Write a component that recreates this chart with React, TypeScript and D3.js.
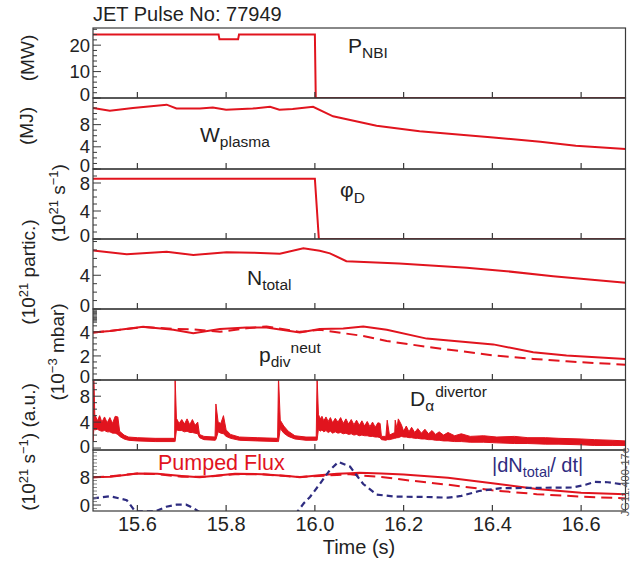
import React from "react";
import * as d3 from "d3";

// ---------- DATA ----------
const xTicks = [15.6, 15.8, 16.0, 16.2, 16.4, 16.6];
const xTickLabels = ["15.6", "15.8", "16.0", "16.2", "16.4", "16.6"];

const pnbiTime = [15.5, 15.783, 15.785, 15.827, 15.829, 16.0, 16.002, 16.7];
const pnbiValue = [24.0, 24.0, 22.2, 22.2, 24.0, 24.0, 0, 0];

const wTime = [15.5, 15.538, 15.59, 15.666, 15.688, 15.741, 15.77, 15.8, 15.86, 15.899, 15.92, 15.95, 15.996, 16.041, 16.139, 16.236, 16.402, 16.508, 16.588, 16.7];
const wValue = [11.0, 10.5, 11.0, 11.6, 10.9, 10.9, 11.1, 10.7, 10.9, 11.2, 10.7, 10.8, 11.2, 9.5, 7.8, 6.8, 5.7, 4.9, 4.2, 3.6];

const phiTime = [15.5, 16.0, 16.009, 16.7];
const phiValue = [8.6, 8.6, 0, 0];

const nTime = [15.5, 15.576, 15.666, 15.726, 15.801, 15.861, 15.921, 15.974, 16.011, 16.034, 16.071, 16.19, 16.342, 16.432, 16.537, 16.7];
const nValue = [6.94, 6.5, 6.8, 6.4, 6.74, 6.67, 6.55, 7.2, 6.9, 6.6, 5.67, 5.39, 4.88, 4.48, 3.88, 3.1];

const pTime = [15.5, 15.538, 15.613, 15.681, 15.726, 15.786, 15.846, 15.891, 15.966, 16.011, 16.064, 16.109, 16.162, 16.252, 16.402, 16.492, 16.567, 16.7];
const pSolid = [3.95, 4.08, 4.42, 4.17, 3.89, 4.23, 4.37, 4.37, 3.95, 4.23, 4.28, 4.45, 4.17, 3.44, 2.96, 2.31, 2.03, 1.75];
const pDashed = [3.95, 4.08, 4.4, 4.25, 4.2, 4.0, 4.3, 4.45, 4.0, 4.17, 3.89, 3.66, 3.24, 2.76, 2.05, 1.75, 1.55, 1.27];

const daTime = [15.5, 15.502, 15.504, 15.51, 15.515, 15.52, 15.526, 15.532, 15.538, 15.544, 15.55, 15.556, 15.56, 15.57, 15.58, 15.6, 15.64, 15.684,
  15.685, 15.688, 15.694, 15.7, 15.706, 15.712, 15.718, 15.724, 15.73, 15.736, 15.74, 15.75, 15.775,
  15.777, 15.782, 15.788, 15.794, 15.8, 15.81, 15.83, 15.87, 15.916,
  15.918, 15.922, 15.93, 15.94, 15.955, 15.98, 16.003,
  16.005, 16.008, 16.012, 16.016, 16.02, 16.025, 16.03, 16.035, 16.04, 16.046, 16.052, 16.058, 16.064, 16.07, 16.076, 16.082, 16.088, 16.094, 16.1, 16.106, 16.112, 16.118, 16.124, 16.13, 16.136, 16.142, 16.147,
  16.15, 16.16, 16.163, 16.168, 16.18, 16.181, 16.185, 16.188,
  16.195, 16.2, 16.206, 16.212, 16.218, 16.225, 16.232, 16.24, 16.248, 16.256, 16.264, 16.272, 16.28, 16.29, 16.3, 16.315, 16.33, 16.35,
  16.38, 16.41, 16.45, 16.48, 16.52, 16.55, 16.6, 16.63, 16.67, 16.7];
const daLow = [1.0, 3.0, 2.8, 2.9, 2.7, 2.6, 2.7, 2.5, 2.5, 2.3, 2.3, 2.1, 1.8, 1.4, 1.2, 1.1, 1.0, 1.0,
  1.0, 2.8, 2.7, 2.7, 2.5, 2.6, 2.4, 2.4, 2.3, 2.2, 1.6, 1.3, 1.2,
  1.3, 2.5, 2.3, 2.2, 1.8, 1.5, 1.2, 1.1, 1.0,
  1.0, 3.0, 2.3, 1.8, 1.4, 1.2, 1.2,
  1.2, 2.9, 2.6, 2.8, 2.5, 2.7, 2.4, 2.6, 2.3, 2.5, 2.3, 2.4, 2.2, 2.3, 2.1, 2.2, 2.0, 2.1, 1.9, 2.0, 1.9, 1.9, 1.8, 1.8, 1.7, 1.7, 1.6,
  1.3, 1.2, 1.3, 1.3, 1.5, 1.5, 1.6, 1.6,
  1.8, 1.7, 1.7, 1.6, 1.6, 1.5, 1.5, 1.4, 1.4, 1.3, 1.3, 1.2, 1.2, 1.1, 1.1, 1.0, 1.0, 0.9,
  0.9, 0.8, 0.7, 0.7, 0.6, 0.6, 0.5, 0.4, 0.4, 0.4];
const daHigh = [11, 11, 5.2, 4.2, 5.0, 4.0, 4.8, 3.9, 4.7, 3.8, 4.9, 4.8, 2.6, 2.0, 1.7, 1.6, 1.5, 1.5,
  11, 4.6, 3.8, 4.4, 3.7, 4.5, 3.6, 4.4, 3.5, 4.0, 2.1, 1.8, 1.7,
  6.8, 4.0, 3.8, 5.0, 2.8, 2.1, 1.7, 1.6, 1.5,
  11, 4.3, 3.4, 2.6, 1.9, 1.7, 1.7,
  11, 5.2, 4.5, 4.9, 4.2, 4.8, 4.1, 4.7, 3.9, 4.6, 4.0, 4.7, 3.8, 4.5, 3.7, 4.4, 3.6, 4.3, 3.5, 4.2, 3.4, 4.1, 3.3, 4.0, 3.2, 3.9, 3.8,
  1.8, 1.8, 4.3, 2.0, 2.4, 4.3, 3.0, 4.5,
  3.6, 2.6, 3.4, 2.5, 3.2, 2.4, 3.0, 2.3, 2.9, 2.2, 2.7, 2.1, 2.5, 2.0, 2.4, 1.9, 2.2, 1.8,
  1.9, 1.7, 1.8, 1.6, 1.6, 1.5, 1.4, 1.3, 1.2, 1.1];

const fluxTime = [15.5, 15.54, 15.6, 15.645, 15.7, 15.74, 15.77, 15.82, 15.88, 15.94, 15.966, 16.01, 16.05, 16.08, 16.1, 16.15, 16.2, 16.3, 16.4, 16.5, 16.6, 16.7];
const fluxSolid = [7.9, 8.1, 9.0, 8.9, 8.3, 7.9, 8.3, 8.9, 8.8, 8.3, 7.9, 8.5, 8.9, 9.1, 9.2, 9.0, 8.7, 7.8, 6.2, 4.6, 3.5, 3.1];
const fluxDashed = [7.9, 8.2, 9.0, 8.8, 8.1, 8.1, 8.2, 8.8, 8.8, 8.2, 8.0, 8.3, 8.6, 8.8, 8.5, 8.0, 7.2, 5.8, 4.2, 3.1, 2.4, 1.9];

const dndtTime = [15.5, 15.538, 15.576, 15.595, 15.64, 15.665, 15.688, 15.71, 15.725, 15.74, 15.96, 15.975, 15.989, 16.011, 16.034, 16.053, 16.079, 16.109, 16.139, 16.18, 16.25, 16.3, 16.33, 16.37, 16.42, 16.5, 16.58, 16.61, 16.63, 16.66, 16.7];
const dndtValue = [1.9, 2.5, 1.4, -1.8, -1.8, -0.5, 0.1, 0.1, -0.8, -2.0, -2.0, 0.5, 2.3, 6.0, 10.0, 12.3, 11.0, 6.0, 3.0, 2.4, 2.3, 2.1, 2.6, 4.0, 4.8, 4.9, 5.0, 5.8, 6.6, 6.5, 5.8];

// ---------- STYLE ----------
const RED = "#e1141e";
const NAVY = "#2e2c80";
const FRAME = "#3a3a3a";
const FONT = "Liberation Sans, Arial, Helvetica, sans-serif";

type Panel = { top: number; bottom: number; domain: [number, number]; labels: number[]; minor: number; minorColor?: string; dense?: [number, number] };

const bounds = [28, 98, 169, 239, 309, 380, 450, 511];
const panelDefs: Omit<Panel, "top" | "bottom">[] = [
  { domain: [0, 26.5], labels: [0, 10, 20], minor: 2 },
  { domain: [0, 12.8], labels: [0, 4, 8], minor: 1 },
  { domain: [0, 10], labels: [0, 4, 8], minor: 1 },
  { domain: [0, 8.3], labels: [0, 4], minor: 1 },
  { domain: [0, 5.9], labels: [0, 2, 4], minor: 0.5, dense: [4.8, 5.9] },
  { domain: [-0.3, 10.5], labels: [0, 4, 8], minor: 1 },
  { domain: [-1.7, 15.7], labels: [0, 8], minor: 1, minorColor: "#8a8a8a" },
];

export default function App() {
  const x = d3.scaleLinear().domain([15.5, 16.7]).range([93, 625.5]);
  const X0 = 93, X1 = 625.5;
  const panels: Panel[] = panelDefs.map((p, i) => ({ ...p, top: bounds[i], bottom: bounds[i + 1] }));
  const ys = panels.map((p) => d3.scaleLinear().domain(p.domain).range([p.bottom, p.top]));

  const mkLine = (ti: number[], vi: number[], y: d3.ScaleLinear<number, number>) =>
    d3.line<number>().x((_, i) => x(ti[i])).y((d) => y(d))(vi) || "";

  const daArea = d3.area<number>()
    .x((_, i) => x(daTime[i]))
    .y0((_, i) => ys[5](daLow[i]))
    .y1((d) => ys[5](d))(daHigh) || "";

  const sub = 15.5;

  return (
    <svg width={632} height={566} style={{ position: "absolute", left: 0, top: 0, background: "#fff" }} fontFamily={FONT}>
      <defs>
        {panels.map((p, i) => (
          <clipPath id={`clip${i}`} key={i}>
            <rect x={X0} y={p.top} width={X1 - X0} height={p.bottom - p.top} />
          </clipPath>
        ))}
      </defs>

      <text x={93} y={21} fontSize={20} fill="#222">JET Pulse No: 77949</text>

      {/* data */}
      <g clipPath="url(#clip0)">
        <path d={mkLine(pnbiTime, pnbiValue, ys[0])} fill="none" stroke={RED} strokeWidth={2} />
      </g>
      <g clipPath="url(#clip1)">
        <path d={mkLine(wTime, wValue, ys[1])} fill="none" stroke={RED} strokeWidth={2} />
      </g>
      <g clipPath="url(#clip2)">
        <path d={mkLine(phiTime, phiValue, ys[2])} fill="none" stroke={RED} strokeWidth={2} />
      </g>
      <g clipPath="url(#clip3)">
        <path d={mkLine(nTime, nValue, ys[3])} fill="none" stroke={RED} strokeWidth={2} />
      </g>
      <g clipPath="url(#clip4)">
        <path d={mkLine(pTime, pSolid, ys[4])} fill="none" stroke={RED} strokeWidth={2} />
        <path d={mkLine(pTime, pDashed, ys[4])} fill="none" stroke={RED} strokeWidth={2} strokeDasharray="11 6" />
      </g>
      <g clipPath="url(#clip5)">
        <path d={daArea} fill={RED} stroke={RED} strokeWidth={1} strokeLinejoin="round" />
      </g>
      <g clipPath="url(#clip6)">
        <path d={mkLine(fluxTime, fluxSolid, ys[6])} fill="none" stroke={RED} strokeWidth={2} />
        <path d={mkLine(fluxTime, fluxDashed, ys[6])} fill="none" stroke={RED} strokeWidth={2} strokeDasharray="11 6" />
        <path d={mkLine(dndtTime, dndtValue, ys[6])} fill="none" stroke={NAVY} strokeWidth={2.2} strokeDasharray="6 4" />
      </g>

      {/* frames, ticks */}
      {panels.map((p, i) => {
        const y = ys[i];
        const [d0, d1] = p.domain;
        const minors: number[] = [];
        for (let v = Math.ceil(d0 / p.minor) * p.minor; v <= d1 + 1e-9; v += p.minor) minors.push(+v.toFixed(3));
        const dense: number[] = [];
        if (p.dense) for (let v = p.dense[0]; v <= p.dense[1]; v += 0.1) dense.push(v);
        return (
          <g key={i}>
            {minors.map((v, k) => {
              const major = p.labels.includes(v);
              return (
                <line key={k} x1={X0} x2={X0 + (major ? 8 : 4)} y1={y(v)} y2={y(v)} stroke={major ? FRAME : p.minorColor || FRAME} strokeWidth={1} />
              );
            })}
            {dense.map((v, k) => (
              <line key={"d" + k} x1={X0} x2={X0 + 4} y1={y(v)} y2={y(v)} stroke="#555" strokeWidth={1} />
            ))}
            {xTicks.map((t, k) => (
              <line key={"x" + k} x1={x(t)} x2={x(t)} y1={p.bottom} y2={p.bottom - 6} stroke={FRAME} strokeWidth={1.2} />
            ))}
            {p.labels.map((v, k) => (
              <text key={"l" + k} x={90} y={Math.min(y(v), p.bottom - 3.5)} dy="0.36em" textAnchor="end" fontSize={18.5} fill="#222">{v}</text>
            ))}
            <rect x={X0} y={p.top} width={X1 - X0} height={p.bottom - p.top} fill="none" stroke={FRAME} strokeWidth={1.2} />
          </g>
        );
      })}

      {/* x tick labels */}
      {xTicks.map((t, k) => (
        <text key={k} x={x(t)} y={531} textAnchor="middle" fontSize={20} fill="#222">{xTickLabels[k]}</text>
      ))}
      <text x={359} y={554} textAnchor="middle" fontSize={20} fill="#222">Time (s)</text>

      {/* y axis titles */}
      <text transform="translate(34,58) rotate(-90)" textAnchor="middle" fontSize={19} fill="#222">(MW)</text>
      <text transform="translate(33,126) rotate(-90)" textAnchor="middle" fontSize={19} fill="#222">(MJ)</text>
      <text transform="translate(65,203) rotate(-90)" textAnchor="middle" fontSize={19} fill="#222">
        <tspan>(10</tspan><tspan dy={-7} fontSize={13}>21</tspan><tspan dy={7}> s</tspan><tspan dy={-7} fontSize={13}>−1</tspan><tspan dy={7}>)</tspan>
      </text>
      <text transform="translate(35,272) rotate(-90)" textAnchor="middle" fontSize={19} fill="#222">
        <tspan>(10</tspan><tspan dy={-7} fontSize={13}>21</tspan><tspan dy={7}> partic.)</tspan>
      </text>
      <text transform="translate(64,352) rotate(-90)" textAnchor="middle" fontSize={19} fill="#222">
        <tspan>(10</tspan><tspan dy={-7} fontSize={13}>−3</tspan><tspan dy={7}> mbar)</tspan>
      </text>
      <text transform="translate(35,447) rotate(-90)" textAnchor="middle" fontSize={19} fill="#222">
        <tspan>(10</tspan><tspan dy={-7} fontSize={13}>21</tspan><tspan dy={7}> s</tspan><tspan dy={-7} fontSize={13}>−1</tspan><tspan dy={7}>) (a.u.)</tspan>
      </text>

      {/* panel labels */}
      <text x={348} y={53} fontSize={21} fill="#222">P<tspan dy={5} fontSize={sub}>NBI</tspan></text>
      <text x={200} y={142} fontSize={21} fill="#222">W<tspan dy={5} fontSize={sub}>plasma</tspan></text>
      <text x={340} y={197} fontSize={21} fill="#222">φ<tspan dy={6} fontSize={sub}>D</tspan></text>
      <text x={247} y={285} fontSize={21} fill="#222">N<tspan dy={5} fontSize={sub}>total</tspan></text>
      <text x={259} y={362} fontSize={21} fill="#222">p<tspan dy={5} fontSize={sub}>div</tspan><tspan dy={-14} fontSize={sub}>neut</tspan></text>
      <text x={410} y={406} fontSize={21} fill="#222">D<tspan dy={5} fontSize={sub}>α</tspan><tspan dx={1} dy={-14} fontSize={sub}>divertor</tspan></text>
      <text x={158} y={470} fontSize={21.5} fill={RED}>Pumped Flux</text>
      <text x={492} y={472} fontSize={20} fill={NAVY}>|dN<tspan dy={5} fontSize={14.5}>total</tspan><tspan dy={-5}>/ dt|</tspan></text>

      <text transform="translate(629,482) rotate(-90)" textAnchor="middle" fontSize={11} fill="#555">JG11.400-17c</text>
    </svg>
  );
}
